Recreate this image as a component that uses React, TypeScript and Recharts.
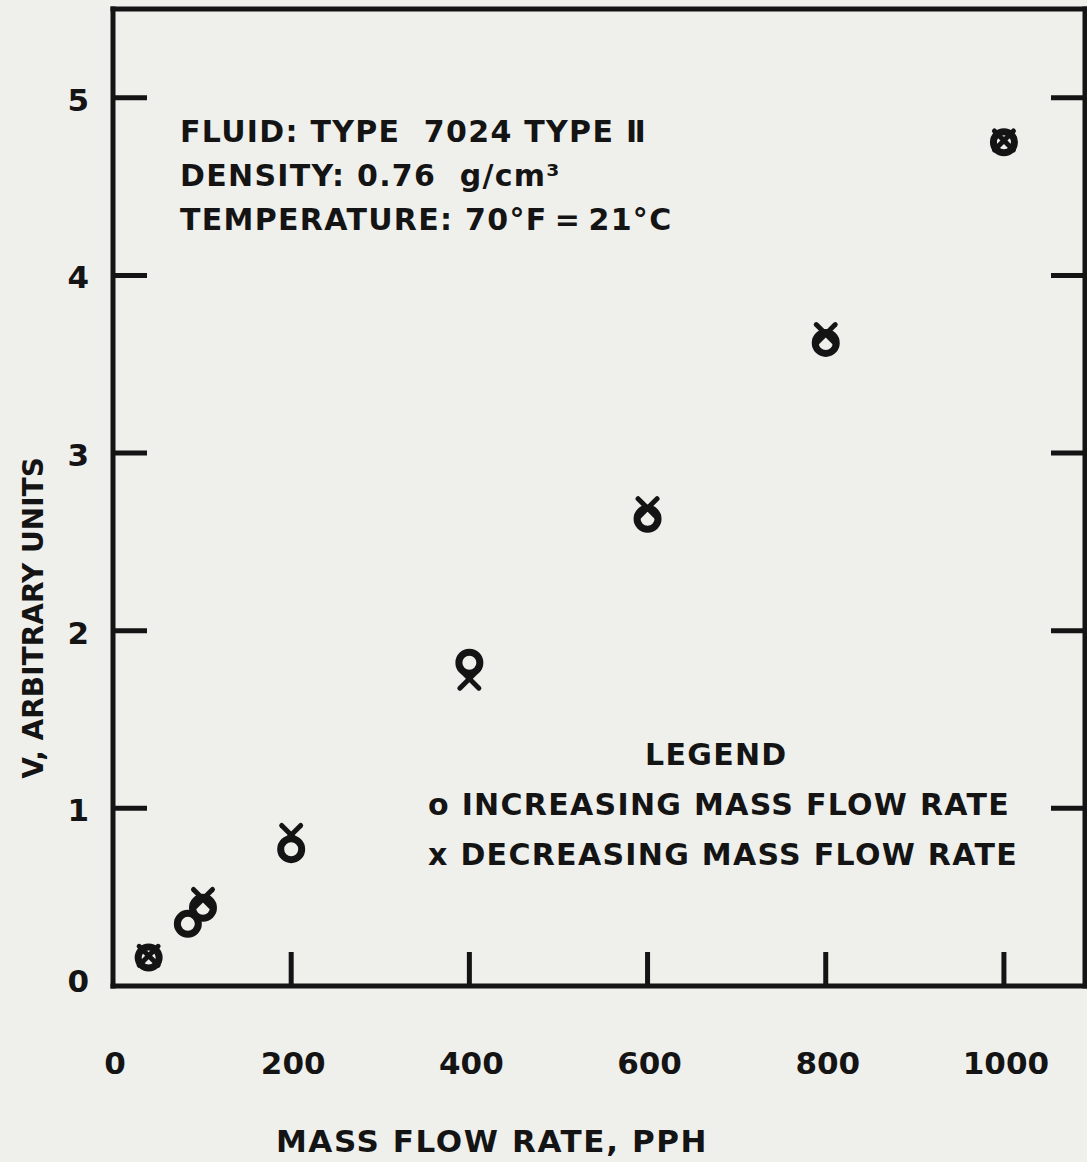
import React from 'react';
import { ScatterChart, Scatter, XAxis, YAxis, Legend } from 'recharts';

// ---- data ----
const xTicks = [0, 200, 400, 600, 800, 1000];
const yTicks = [0, 1, 2, 3, 4, 5];
const increasingFlow = [40, 84, 101, 200, 400, 600, 800, 1000];
const increasingV = [0.16, 0.35, 0.44, 0.77, 1.82, 2.63, 3.62, 4.75];
const decreasingFlow = [40, 101, 200, 400, 600, 800, 1000];
const decreasingV = [0.17, 0.49, 0.85, 1.73, 2.69, 3.67, 4.76];
const annotationLines = ['FLUID: TYPE  7024 TYPE Ⅱ', 'DENSITY: 0.76  g/cm³', 'TEMPERATURE: 70°F\u2009=\u200921°C'];
const legendTitle = 'LEGEND';
const legendLabels = ['o INCREASING MASS FLOW RATE', 'x DECREASING MASS FLOW RATE'];
const xAxisTitle = 'MASS FLOW RATE, PPH';
const yAxisTitle = 'V, ARBITRARY UNITS';

// ---- layout / style ----
const W = 1087;
const H = 1162;
const INK = '#141414';
const BG = '#efefec';
const FONT = '"DejaVu Sans", "Liberation Sans", sans-serif';
const PLOT_LEFT = 113;
const PLOT_RIGHT = 1085;
const PLOT_TOP = 9;
const PLOT_BOTTOM = 986;
const TICK_LEN = 34;
const X_DOMAIN: [number, number] = [0, 1091];
const Y_DOMAIN: [number, number] = [0, 5.5];

const increasingData = increasingFlow.map((x, i) => ({ x, v: increasingV[i] }));
const decreasingData = decreasingFlow.map((x, i) => ({ x, v: decreasingV[i] }));

const BottomTick = (props: any) => {
  const { x, payload } = props;
  return (
    <g>
      {payload.value !== 0 && (
        <line x1={x} x2={x} y1={PLOT_BOTTOM} y2={PLOT_BOTTOM - TICK_LEN} stroke={INK} strokeWidth={5} />
      )}
      <text x={x + 2} y={1074} textAnchor="middle" fill={INK} fontFamily={FONT} fontWeight="bold" fontSize={31}>
        {payload.value}
      </text>
    </g>
  );
};

const TopTick = (props: any) => {
  const { x, payload } = props;
  if (payload.value === 0) return <g />;
  return <line x1={x} x2={x} y1={PLOT_TOP} y2={PLOT_TOP + TICK_LEN} stroke={INK} strokeWidth={5} />;
};

const LeftTick = (props: any) => {
  const { y, payload } = props;
  return (
    <g>
      {payload.value !== 0 && (
        <line x1={PLOT_LEFT} x2={PLOT_LEFT + TICK_LEN} y1={y} y2={y} stroke={INK} strokeWidth={5} />
      )}
      <text x={89} y={y + (payload.value === 0 ? -5 : 2)} textAnchor="end" dominantBaseline="central" fill={INK} fontFamily={FONT} fontWeight="bold" fontSize={31}>
        {payload.value}
      </text>
    </g>
  );
};

const RightTick = (props: any) => {
  const { y, payload } = props;
  if (payload.value === 0) return <g />;
  return <line x1={PLOT_RIGHT} x2={PLOT_RIGHT - TICK_LEN} y1={y} y2={y} stroke={INK} strokeWidth={5} />;
};

const RingShape = (p: any) => (
  <circle cx={p.cx} cy={p.cy} r={10.5} fill="none" stroke={INK} strokeWidth={7} />
);

const CrossShape = (p: any) => {
  const { cx, cy } = p;
  const s = 9.5;
  return (
    <g stroke={INK} strokeWidth={5} strokeLinecap="round">
      <line x1={cx - s} y1={cy - s} x2={cx + s} y2={cy + s} />
      <line x1={cx - s} y1={cy + s} x2={cx + s} y2={cy - s} />
    </g>
  );
};

const LegendBlock = () => (
  <div style={{ fontFamily: FONT, fontWeight: 'bold', fontSize: 30, letterSpacing: 1.3, lineHeight: '50px', color: INK, whiteSpace: 'pre' }}>
    <div style={{ paddingLeft: 217 }}>{legendTitle}</div>
    {legendLabels.map((l) => (
      <div key={l}>{l}</div>
    ))}
  </div>
);

const axisLineStyle = { stroke: INK, strokeWidth: 5, strokeLinecap: 'square' as const };

export default function App() {
  return (
    <div style={{ position: 'absolute', left: 0, top: 0, width: W, height: H, background: BG, overflow: 'hidden' }}>
      <ScatterChart width={W} height={H} margin={{ top: 8, right: 1, left: 0, bottom: 0 }}>
        <XAxis
          xAxisId={0}
          dataKey="x"
          type="number"
          domain={X_DOMAIN}
          ticks={xTicks}
          allowDataOverflow
          height={H - PLOT_BOTTOM}
          axisLine={axisLineStyle}
          tickLine={false}
          tick={BottomTick}
          label={() => (
            <text x={492} y={1152} textAnchor="middle" fill={INK} fontFamily={FONT} fontWeight="bold" fontSize={31} letterSpacing={1.6}>
              {xAxisTitle}
            </text>
          )}
        />
        <XAxis
          xAxisId="top"
          orientation="top"
          type="number"
          domain={X_DOMAIN}
          ticks={xTicks}
          allowDataOverflow
          height={1}
          axisLine={axisLineStyle}
          tickLine={false}
          tick={TopTick}
        />
        <YAxis
          yAxisId={0}
          dataKey="v"
          type="number"
          domain={Y_DOMAIN}
          ticks={yTicks}
          allowDataOverflow
          width={PLOT_LEFT}
          axisLine={axisLineStyle}
          tickLine={false}
          tick={LeftTick}
          label={() => (
            <text
              x={43}
              y={618}
              transform="rotate(-90 43 618)"
              textAnchor="middle"
              fill={INK}
              fontFamily={FONT}
              fontWeight="bold"
              fontSize={28}
            >
              {yAxisTitle}
            </text>
          )}
        />
        <YAxis
          yAxisId="right"
          orientation="right"
          type="number"
          domain={Y_DOMAIN}
          ticks={yTicks}
          allowDataOverflow
          width={1}
          axisLine={axisLineStyle}
          tickLine={false}
          tick={RightTick}
        />
        <Legend
          layout="horizontal"
          verticalAlign="middle"
          align="center"
          content={LegendBlock}
          wrapperStyle={{ position: 'absolute', left: 428, top: 730, width: 640, height: 150 }}
        />
        <Scatter name="increasing" data={increasingData} xAxisId={0} yAxisId={0} shape={RingShape} isAnimationActive={false} />
        <Scatter name="decreasing" data={decreasingData} xAxisId={0} yAxisId={0} shape={CrossShape} isAnimationActive={false} />
      </ScatterChart>
      <div
        style={{
          position: 'absolute',
          left: 180,
          top: 110,
          fontFamily: FONT,
          fontWeight: 'bold',
          fontSize: 30,
          letterSpacing: 1.3,
          lineHeight: '44px',
          color: INK,
          whiteSpace: 'pre',
        }}
      >
        {annotationLines.map((l) => (
          <div key={l}>{l}</div>
        ))}
      </div>
    </div>
  );
}
